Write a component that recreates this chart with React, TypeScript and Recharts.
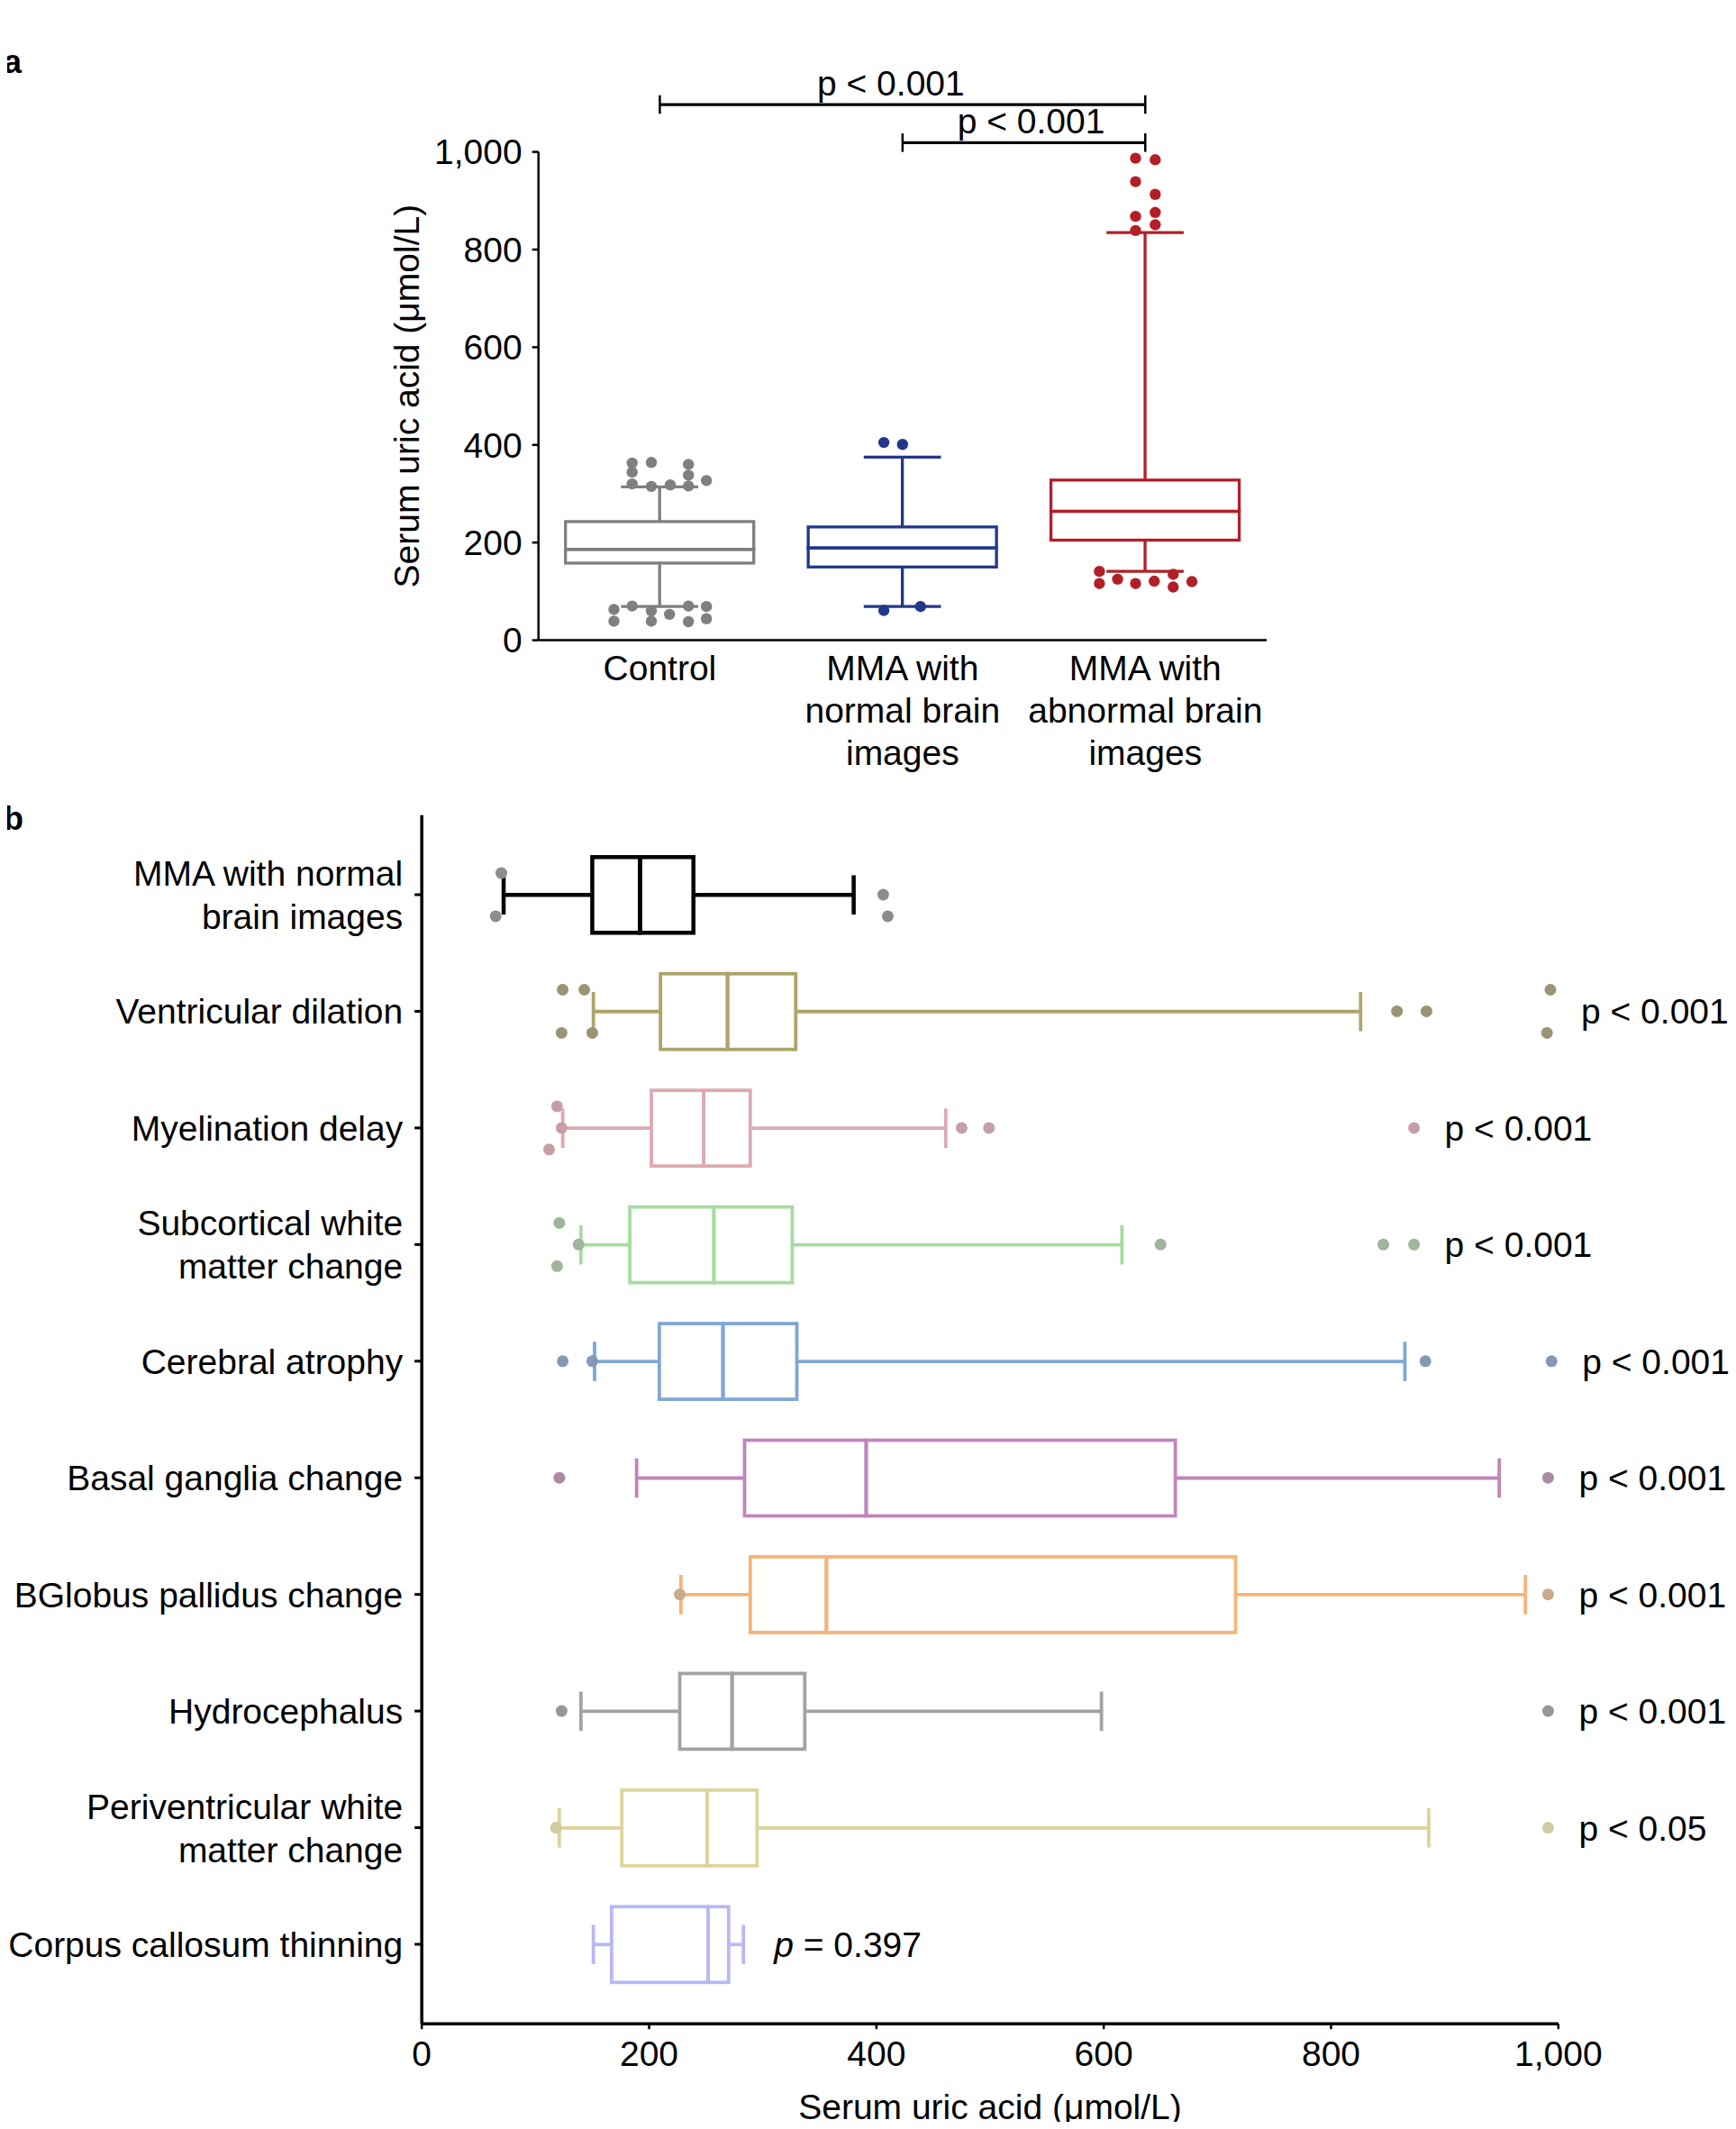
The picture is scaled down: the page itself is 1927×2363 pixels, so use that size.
import React from 'react'
import { ComposedChart, Bar, Scatter, XAxis, YAxis, ReferenceLine, Label } from 'recharts'

const FONT = '"Liberation Sans", Arial, Helvetica, sans-serif'
const FS = 39

// ---------- panel a ----------
const groupsA = ['Control', 'MMA with\nnormal brain\nimages', 'MMA with\nabnormal brain\nimages']
const minA = [69, 69, 141]
const q1A = [158, 150, 205]
const medA = [186, 189, 264]
const q3A = [243, 232, 328]
const maxA = [314, 375, 835]
const outliersA = [
  [363, 344, 320, 364, 315, 318, 360, 338, 316, 327, 63, 39, 70, 60, 39, 53, 70, 38, 69, 44],
  [405, 401, 61, 69],
  [987, 984, 939, 913, 876, 868, 851, 839, 141, 116, 125, 116, 121, 135, 109, 120]
]
// horizontal spread of the dots (fraction of a category band)
const jitterA = [
  [-0.114, -0.114, -0.114, -0.035, -0.035, 0.043, 0.118, 0.118, 0.118, 0.192,
    -0.189, -0.189, -0.114, -0.035, -0.035, 0.04, 0.118, 0.118, 0.192, 0.192],
  [-0.077, 0, -0.077, 0.074],
  [-0.04, 0.041, -0.04, 0.041, 0.041, -0.04, 0.041, -0.04,
    -0.189, -0.189, -0.114, -0.04, 0.037, 0.115, 0.115, 0.192]
]
const ticksA = [0, 200, 400, 600, 800, 1000]
const colorsA = ['#7f7f7f', '#22378c', '#b21f27']

// ---------- panel b ----------
const groupsB = [
  'MMA with normal\nbrain images',
  'Ventricular dilation',
  'Myelination delay',
  'Subcortical white\nmatter change',
  'Cerebral atrophy',
  'Basal ganglia change',
  'BGlobus pallidus change',
  'Hydrocephalus',
  'Periventricular white\nmatter change',
  'Corpus callosum thinning'
]
const minB = [72, 151, 124, 140, 152, 189, 228, 140, 121, 151]
const q1B = [150, 210, 202, 183, 209, 284, 289, 227, 176, 167]
const medB = [192, 269, 248, 257, 265, 391, 356, 273, 251, 252]
const q3B = [239, 329, 289, 326, 330, 663, 716, 337, 295, 270]
const maxB = [380, 826, 461, 616, 865, 948, 971, 598, 886, 283]
const outliersB = [
  [70, 65, 406, 410],
  [124, 143, 123, 150, 858, 884, 993, 990],
  [119, 123, 112, 475, 499, 873],
  [121, 138, 119, 650, 846, 873],
  [124, 150, 883, 994],
  [121, 991],
  [227, 991],
  [123, 991],
  [118, 991],
  []
]
// vertical spread of the dots (fraction of a category band, + is downward)
const jitterB = [
  [-0.185, 0.185, 0, 0.185],
  [-0.185, -0.185, 0.185, 0.185, 0, 0, -0.185, 0.185],
  [-0.185, 0, 0.185, 0, 0, 0],
  [-0.185, 0, 0.185, 0, 0, 0],
  [0, 0, 0, 0],
  [0, 0],
  [0, 0],
  [0, 0],
  [0, 0],
  []
]
const pLabelsB = ['', 'p < 0.001', 'p < 0.001', 'p < 0.001', 'p < 0.001', 'p < 0.001', 'p < 0.001', 'p < 0.001', 'p < 0.05', 'p = 0.397']
const ticksB = [0, 200, 400, 600, 800, 1000]
const boxColorsB = ['#000000', '#ada46a', '#dcaab0', '#a8dba2', '#80a6d7', '#c185bb', '#f6b47a', '#a2a2a2', '#ddd49b', '#b8b8f6']
const dotColorsB = ['#8c8c8c', '#9a9474', '#c4a0a6', '#9fb59c', '#8499b6', '#a98ba6', '#c9aa8c', '#979797', '#d0cca2', '#aaaaaa']

const fmt = (v: number) => v.toLocaleString('en-US')

const boxRow = (name: string, i: number, mn: number[], q1: number[], md: number[], q3: number[], mx: number[]) => ({
  name,
  g: i,
  base: mn[i],
  lowW: q1[i] - mn[i],
  boxLo: md[i] - q1[i],
  boxHi: q3[i] - md[i],
  upW: mx[i] - q3[i]
})

const nB = groupsB.length
const dataA = groupsA.map((n, i) => boxRow(n, i, minA, q1A, medA, q3A, maxA))
const pointsA = outliersA.flatMap((vals, g) => vals.map((v, k) => ({ v, g, jx: g + 0.5 + jitterA[g][k] })))

// hidden numeric y axis in the vertical layout runs top-down, so row g sits at g + 0.5
const dataB = groupsB.map((n, i) => boxRow(n, i, minB, q1B, medB, q3B, maxB))
const pointsB = outliersB.flatMap((vals, g) => vals.map((v, k) => ({ v, g, jy: g + 0.5 + jitterB[g][k] })))
const pLabelData = groupsB.map((_, g) => ({ v: Math.max(maxB[g], ...outliersB[g]), g, jy: g + 0.5 }))

// vertical box pieces (panel a)
const pieceA = (part: string) => (props: any) => {
  const { x, y, width, height, index } = props
  const c = colorsA[index]
  const sw = 3.3
  if (part === 'base') return <g />
  const cx = x + width / 2
  const cap = width * 0.41
  if (part === 'low' || part === 'up') {
    const cy = part === 'low' ? y + height : y
    return (
      <g>
        <line x1={cx} x2={cx} y1={y} y2={y + height} stroke={c} strokeWidth={sw} />
        <line x1={cx - cap / 2} x2={cx + cap / 2} y1={cy} y2={cy} stroke={c} strokeWidth={sw} />
      </g>
    )
  }
  return <rect x={x} y={y} width={width} height={height} fill='none' stroke={c} strokeWidth={sw} />
}

// horizontal box pieces (panel b)
const pieceB = (part: string) => (props: any) => {
  const { x, y, width, height, index } = props
  const c = boxColorsB[index]
  const sw = index === 0 ? 4.5 : 3.8
  if (part === 'base') return <g />
  const cy = y + height / 2
  const cap = height * 0.52
  if (part === 'low' || part === 'up') {
    const cx = part === 'low' ? x : x + width
    return (
      <g>
        <line x1={x} x2={x + width} y1={cy} y2={cy} stroke={c} strokeWidth={sw} />
        <line x1={cx} x2={cx} y1={cy - cap / 2} y2={cy + cap / 2} stroke={c} strokeWidth={sw} />
      </g>
    )
  }
  return <rect x={x} y={y} width={width} height={height} fill='none' stroke={c} strokeWidth={sw} />
}

const TickA = (props: any) => {
  const { x, y, payload } = props
  const lines = String(payload.value).split('\n')
  return (
    <text x={x} y={y} textAnchor='middle' fontSize={FS} fontFamily={FONT} fill='#000'>
      {lines.map((l, i) => (
        <tspan key={i} x={x} dy={i === 0 ? 44 : 47.4}>{l}</tspan>
      ))}
    </text>
  )
}

const TickB = (props: any) => {
  const { x, y, payload } = props
  const lines = String(payload.value).split('\n')
  const start = -((lines.length - 1) / 2) * 48 + 14
  return (
    <text x={x} y={y} textAnchor='end' fontSize={FS} fontFamily={FONT} fill='#000'>
      {lines.map((l, i) => (
        <tspan key={i} x={x} dy={i === 0 ? start : 48}>{l}</tspan>
      ))}
    </text>
  )
}

const pLabelShape = (props: any) => {
  const { cx, cy, payload } = props
  const t = pLabelsB[payload.g]
  if (!t) return <g />
  const tx = cx + 34
  if (t.startsWith('p = ')) {
    return (
      <text x={tx} y={cy} dy={14} fontSize={FS} fontFamily={FONT} fill='#000'>
        <tspan fontStyle='italic'>p</tspan>
        {t.slice(1)}
      </text>
    )
  }
  return (
    <text x={tx} y={cy} dy={14} fontSize={FS} fontFamily={FONT} fill='#000'>{t}</text>
  )
}

const bracketLabel = (value: string, dx: number) => ({
  value,
  position: 'top' as const,
  offset: 10,
  dx,
  fontSize: FS,
  fontFamily: FONT,
  fill: '#000'
})

export default function App() {
  const parts = ['base', 'low', 'boxLo', 'boxHi', 'up']
  const keys = ['base', 'lowW', 'boxLo', 'boxHi', 'upW']
  return (
    <div style={{ position: 'relative', width: 1927, height: 2363, margin: -8, background: '#fff', fontFamily: FONT }}>
      <svg width={1927} height={2363} style={{ position: 'absolute', left: 0, top: 0 }}>
        <text x={4} y={81} fontSize={36} fontWeight='bold' fontFamily='Liberation Sans' fill='#000'>a</text>
        <text x={4} y={921} fontSize={36} fontWeight='bold' fontFamily='Liberation Sans' fill='#000'>b</text>
      </svg>

      <div style={{ position: 'absolute', left: 0, top: 0 }}>
        <ComposedChart
          width={1500}
          height={880}
          data={dataA}
          margin={{ top: 168.6, right: 94, bottom: 9.4, left: 447.7 }}
        >
          <XAxis
            xAxisId='cat'
            dataKey='name'
            type='category'
            interval={0}
            height={160}
            tickSize={0}
            tickMargin={0}
            tickLine={false}
            axisLine={{ stroke: '#000', strokeWidth: 2.5 }}
            tick={<TickA />}
          />
          <XAxis xAxisId='num' dataKey='jx' type='number' domain={[0, 3]} hide />
          <YAxis
            type='number'
            domain={[0, 1000]}
            ticks={ticksA}
            tickFormatter={fmt}
            width={150}
            tickSize={7}
            tickMargin={11}
            axisLine={{ stroke: '#000', strokeWidth: 2.5 }}
            tickLine={{ stroke: '#000', strokeWidth: 2.5 }}
            tick={{ fontSize: FS, fill: '#000', fontFamily: FONT }}
          >
            <Label
              content={(p: any) => {
                const vb = p.viewBox || { x: 447.7, y: 168.6, width: 150, height: 542 }
                const cx = vb.x + 4
                const cy = vb.y + vb.height / 2
                return (
                  <text
                    x={cx}
                    y={cy}
                    transform={`rotate(-90, ${cx}, ${cy})`}
                    textAnchor='middle'
                    dominantBaseline='central'
                    fontSize={FS}
                    fontFamily={FONT}
                    fill='#000'
                  >
                    Serum uric acid (μmol/L)
                  </text>
                )
              }}
            />
          </YAxis>
          {keys.map((k, j) => (
            <Bar
              key={k}
              xAxisId='cat'
              dataKey={k}
              stackId='box'
              barSize={209}
              shape={pieceA(parts[j])}
              isAnimationActive={false}
            />
          ))}
          <Scatter
            xAxisId='num'
            data={pointsA}
            dataKey='v'
            isAnimationActive={false}
            shape={(p: any) => <circle cx={p.cx} cy={p.cy} r={6.2} fill={colorsA[p.payload.g]} />}
          />
          <ReferenceLine
            xAxisId='num'
            ifOverflow='visible'
            segment={[{ x: 0.5, y: 1097 }, { x: 2.5, y: 1097 }]}
            stroke='#000'
            strokeWidth={3.2}
            label={bracketLabel('p < 0.001', -13)}
          />
          <ReferenceLine xAxisId='num' ifOverflow='visible' segment={[{ x: 0.5, y: 1078 }, { x: 0.5, y: 1116 }]} stroke='#000' strokeWidth={2.5} />
          <ReferenceLine xAxisId='num' ifOverflow='visible' segment={[{ x: 2.5, y: 1078 }, { x: 2.5, y: 1116 }]} stroke='#000' strokeWidth={2.5} />
          <ReferenceLine
            xAxisId='num'
            ifOverflow='visible'
            segment={[{ x: 1.5, y: 1019 }, { x: 2.5, y: 1019 }]}
            stroke='#000'
            strokeWidth={3.2}
            label={bracketLabel('p < 0.001', 8)}
          />
          <ReferenceLine xAxisId='num' ifOverflow='visible' segment={[{ x: 1.5, y: 1000 }, { x: 1.5, y: 1038 }]} stroke='#000' strokeWidth={2.5} />
          <ReferenceLine xAxisId='num' ifOverflow='visible' segment={[{ x: 2.5, y: 1000 }, { x: 2.5, y: 1038 }]} stroke='#000' strokeWidth={2.5} />
        </ComposedChart>
      </div>

      <div style={{ position: 'absolute', left: 0, top: 780 }}>
        <ComposedChart
          layout='vertical'
          width={1927}
          height={1583}
          data={dataB}
          margin={{ top: 124.8, right: 197.2, bottom: 16.8, left: 268.2 }}
        >
          <XAxis
            type='number'
            domain={[0, 1000]}
            ticks={ticksB}
            tickFormatter={fmt}
            height={100}
            tickSize={6}
            tickMargin={13}
            axisLine={{ stroke: '#000', strokeWidth: 3.5 }}
            tickLine={{ stroke: '#000', strokeWidth: 2.5 }}
            tick={{ fontSize: FS, fill: '#000', fontFamily: FONT }}
          >
            <Label
              content={(p: any) => {
                const vb = p.viewBox || { x: 468.2, y: 1466.2, width: 1261.6, height: 100 }
                return (
                  <text
                    x={vb.x + vb.width / 2}
                    y={vb.y + 92}
                    textAnchor='middle'
                    dominantBaseline='central'
                    fontSize={FS}
                    fontFamily={FONT}
                    fill='#000'
                  >
                    Serum uric acid (μmol/L)
                  </text>
                )
              }}
            />
          </XAxis>
          <YAxis
            yAxisId='cat'
            type='category'
            dataKey='name'
            width={200}
            interval={0}
            tickSize={8}
            tickMargin={13}
            padding={{ top: 23.5, bottom: 23.5 }}
            axisLine={{ stroke: '#000', strokeWidth: 3.5 }}
            tickLine={{ stroke: '#000', strokeWidth: 3 }}
            tick={<TickB />}
          />
          <YAxis yAxisId='num' type='number' dataKey='jy' domain={[0, nB]} hide padding={{ top: 23.5, bottom: 23.5 }} />
          {keys.map((k, j) => (
            <Bar
              key={k}
              yAxisId='cat'
              dataKey={k}
              stackId='box'
              barSize={84}
              shape={pieceB(parts[j])}
              isAnimationActive={false}
            />
          ))}
          <Scatter
            yAxisId='num'
            data={pointsB}
            dataKey='v'
            isAnimationActive={false}
            shape={(p: any) => <circle cx={p.cx} cy={p.cy} r={6.5} fill={dotColorsB[p.payload.g]} />}
          />
          <Scatter yAxisId='num' data={pLabelData} dataKey='v' isAnimationActive={false} shape={pLabelShape} />
        </ComposedChart>
      </div>
    </div>
  )
}
